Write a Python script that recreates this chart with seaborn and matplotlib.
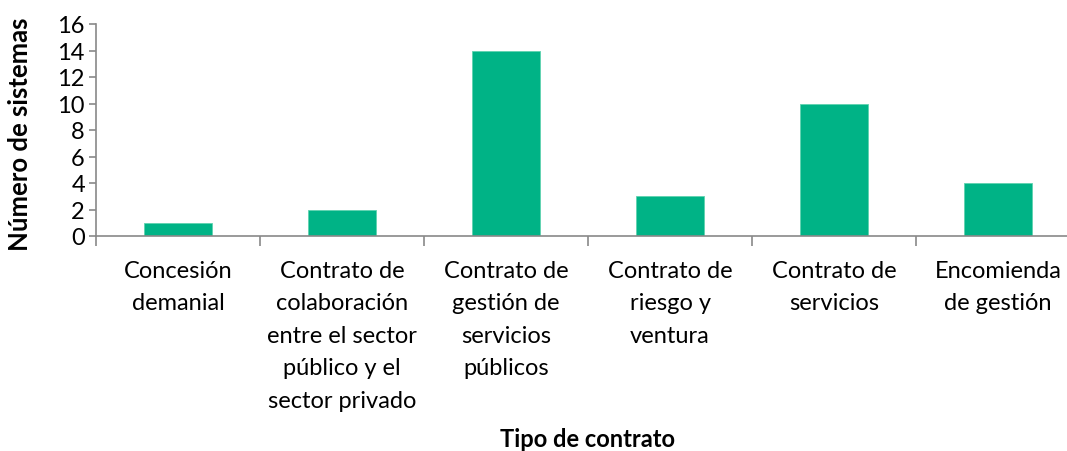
import matplotlib
matplotlib.use("Agg")
import matplotlib.pyplot as plt
import seaborn as sns
import pandas as pd
import numpy as np

categories = ["Concesión\ndemanial",
              "Contrato de\ncolaboración\nentre el sector\npúblico y el\nsector privado",
              "Contrato de\ngestión de\nservicios\npúblicos",
              "Contrato de\nriesgo y\nventura",
              "Contrato de\nservicios",
              "Encomienda\nde gestión"]
values = [1, 2, 14, 3, 10, 4]
y_ticks = [0, 2, 4, 6, 8, 10, 12, 14, 16]

sns.set_theme(style="white")
plt.rcParams['font.family'] = ['Lato', 'DejaVu Sans']
plt.rcParams['text.color'] = 'black'
plt.rcParams['axes.labelcolor'] = 'black'

df = pd.DataFrame({"cat": categories, "val": values})

FS = 17

fig = plt.figure(figsize=(10.67, 4.52), dpi=100)
ax = fig.add_axes([96/1067, 1-237/452, 984/1067, (237-25)/452])
sns.barplot(data=df, x="cat", y="val", color="#00B386", width=0.41,
            saturation=1, ax=ax, edgecolor="#5fd3b0", linewidth=0.6)

axis_color = "#898989"
ax.set_ylim(0, 16)
ax.set_xlim(-0.5, len(categories) - 0.5)
ax.set_yticks(y_ticks)
ax.set_yticklabels([str(t) for t in y_ticks], fontsize=FS, color="black")
ax.tick_params(axis='y', which='major', direction='out', length=5, width=1.2,
               color=axis_color, left=True, pad=3)
ax.tick_params(axis='x', which='major', length=0, labelsize=FS, pad=17, labelcolor="black")
ax.set_xticks(np.arange(-0.5, len(categories), 1.0), minor=True)
ax.tick_params(axis='x', which='minor', direction='out', length=7, width=1.2,
               color=axis_color, bottom=True)
for lbl in ax.get_xticklabels():
    lbl.set_linespacing(1.68)

for s in ["top", "right"]:
    ax.spines[s].set_visible(False)
for s in ["left", "bottom"]:
    ax.spines[s].set_color(axis_color)
    ax.spines[s].set_linewidth(1.2)

ax.set_xlabel("Tipo de contrato", fontsize=FS, fontweight="bold", color="black")
ax.set_ylabel("Número de sistemas", fontsize=18.5, fontweight="bold", color="black")
ax.xaxis.set_label_coords((588-96)/984, -(428-237)/212)
ax.yaxis.set_label_coords(-(96-32)/984, (237-134)/212)

fig.savefig("out.png", dpi=100)
